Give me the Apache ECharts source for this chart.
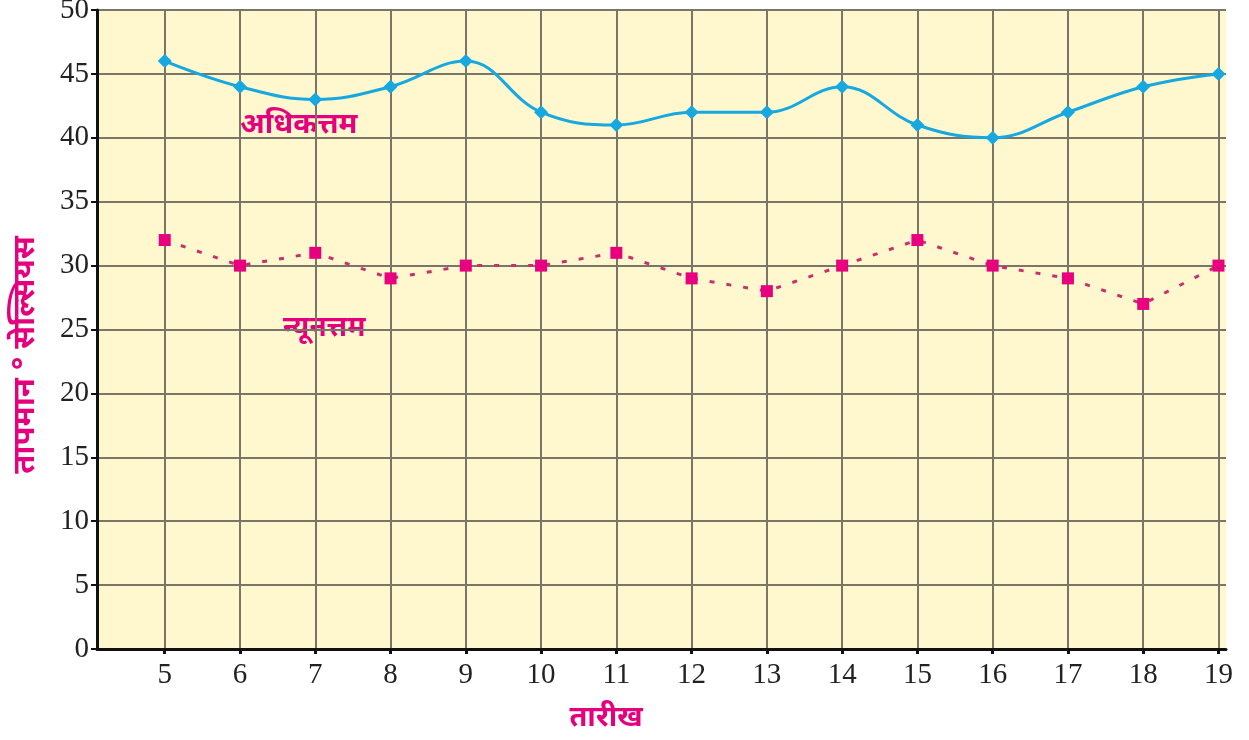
<!DOCTYPE html>
<html>
<head>
<meta charset="utf-8">
<script src="https://cdn.jsdelivr.net/npm/echarts@6/dist/echarts.min.js"></script>
<style>html,body{margin:0;padding:0;background:#fff}#c{width:1249px;height:740px}</style>
</head>
<body>
<div id="c"></div>
<script>
const dates = [5, 6, 7, 8, 9, 10, 11, 12, 13, 14, 15, 16, 17, 18, 19];
const maxTemp = [46, 44, 43, 44, 46, 42, 41, 42, 42, 44, 41, 40, 42, 44, 45];
const minTemp = [32, 30, 31, 29, 30, 30, 31, 29, 28, 30, 32, 30, 29, 27, 30];
const yTicks = [0, 5, 10, 15, 20, 25, 30, 35, 40, 45, 50];
const yAxisTitle = 'तापमान ° सेल्सियस';
const xAxisTitle = 'तारीख';
const maxLabel = 'अधिकत्तम';
const minLabel = 'न्यूनत्तम';

const pink = '#e5007e';
const devFont = '"Noto Sans", "Noto Sans Devanagari", "Lohit Devanagari", sans-serif';
const numFont = '"Liberation Serif", "Times New Roman", serif';

const chart = echarts.init(document.getElementById('c'));
chart.setOption({
  animation: false,
  backgroundColor: '#ffffff',
  grid: {
    left: 97, top: 10, right: 23, bottom: 91,
    outerBoundsMode: 'none',
    containLabel: false,
    show: true, backgroundColor: '#fff8cf', borderWidth: 0
  },
  xAxis: {
    type: 'value',
    min: 4.1, max: 19.1,
    axisLine: { show: true, lineStyle: { color: '#111', width: 3 } },
    axisTick: { show: true, customValues: dates, length: 5, lineStyle: { color: '#111', width: 3 } },
    axisLabel: { customValues: dates, color: '#222', fontSize: 29, fontFamily: numFont, margin: 12 },
    splitLine: { show: true, lineStyle: { color: '#7b7568', width: 2 } }
  },
  yAxis: {
    type: 'value',
    min: 0, max: 50, interval: 5,
    axisLine: { show: true, lineStyle: { color: '#111', width: 3 } },
    axisTick: { show: true, length: 6, lineStyle: { color: '#111', width: 2 } },
    axisLabel: { color: '#222', fontSize: 29, fontFamily: numFont, margin: 8 },
    splitLine: { show: true, lineStyle: { color: '#7b7568', width: 2 } }
  },
  series: [
    {
      name: maxLabel,
      type: 'line',
      smooth: 0.4,
      data: dates.map((d, i) => [d, maxTemp[i]]),
      symbol: 'diamond',
      symbolSize: 14,
      itemStyle: { color: '#17a8e0' },
      lineStyle: { color: '#17a8e0', width: 3 },
      z: 5
    },
    {
      name: minLabel,
      type: 'line',
      data: dates.map((d, i) => [d, minTemp[i]]),
      symbol: 'rect',
      symbolSize: 12,
      itemStyle: { color: '#e8007f' },
      lineStyle: { color: '#c8306c', width: 3, type: [5, 12] },
      z: 5
    }
  ],
  graphic: [
    { type: 'text', left: 240, top: 110, style: { text: maxLabel, fill: pink, font: 'bold 29px ' + devFont } },
    { type: 'text', left: 283, top: 314, style: { text: minLabel, fill: pink, font: 'bold 28px ' + devFont } },
    { type: 'text', x: 606, y: 718, style: { text: xAxisTitle, fill: pink, font: 'bold 29px ' + devFont, align: 'center', verticalAlign: 'middle' } },
    { type: 'text', x: 25, y: 355, rotation: Math.PI / 2, style: { text: yAxisTitle, fill: pink, font: 'bold 31px ' + devFont, align: 'center', verticalAlign: 'middle' } }
  ]
});
</script>
</body>
</html>
